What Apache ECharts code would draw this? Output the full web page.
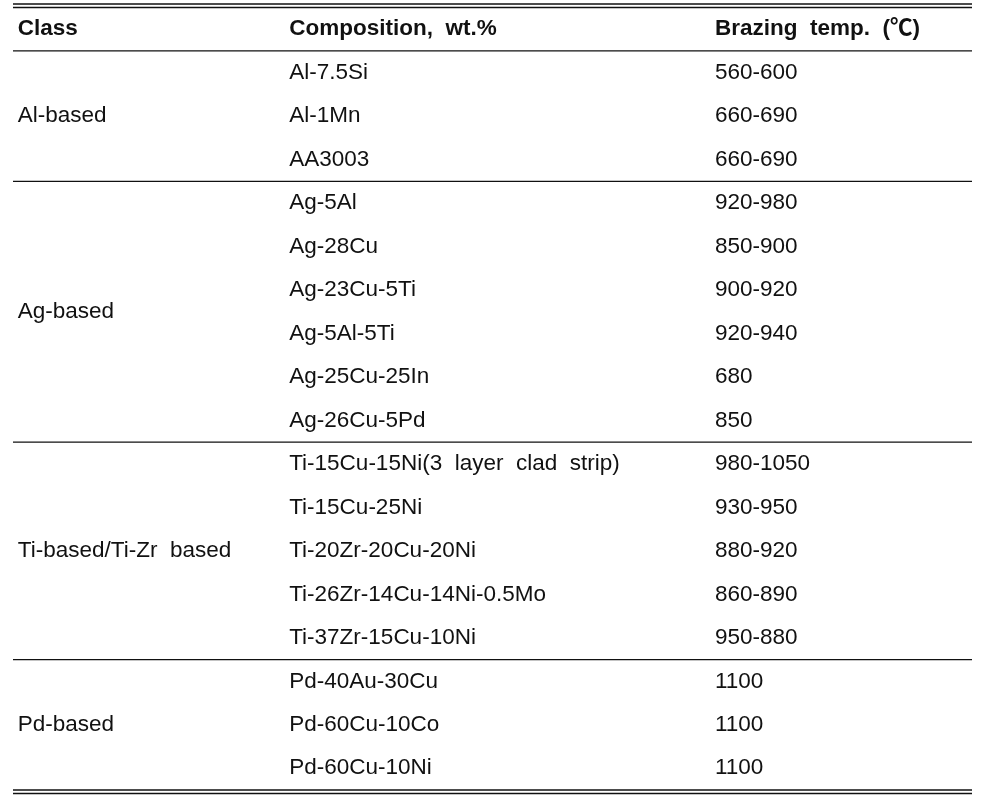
<!DOCTYPE html>
<html>
<head>
<meta charset="utf-8">
<script src="https://cdn.jsdelivr.net/npm/echarts@6/dist/echarts.min.js"></script>
<style>
  html, body { margin: 0; padding: 0; background: #fff; }
  #chart { width: 985px; height: 803px; }
</style>
</head>
<body>
<div id="chart"></div>
<script>
// table content
const headers = ["Class", "Composition,  wt.%", "Brazing  temp.  (℃)"];
const classNames = ["Al-based", "Ag-based", "Ti-based/Ti-Zr  based", "Pd-based"];
const classRowCounts = [3, 6, 5, 3];
const compositions = [
  "Al-7.5Si", "Al-1Mn", "AA3003",
  "Ag-5Al", "Ag-28Cu", "Ag-23Cu-5Ti", "Ag-5Al-5Ti", "Ag-25Cu-25In", "Ag-26Cu-5Pd",
  "Ti-15Cu-15Ni(3  layer  clad  strip)", "Ti-15Cu-25Ni", "Ti-20Zr-20Cu-20Ni",
  "Ti-26Zr-14Cu-14Ni-0.5Mo", "Ti-37Zr-15Cu-10Ni",
  "Pd-40Au-30Cu", "Pd-60Cu-10Co", "Pd-60Cu-10Ni",
];
const brazingTemps = [
  "560-600", "660-690", "660-690",
  "920-980", "850-900", "900-920", "920-940", "680", "850",
  "980-1050", "930-950", "880-920", "860-890", "950-880",
  "1100", "1100", "1100",
];

// column left edges, in percent of the table width
const colStart = [0.5, 28.8, 73.2];
const FONT = "'Liberation Sans', Arial, 'Noto Sans CJK KR', sans-serif";
const totalRows = compositions.length + 1;

const cells = [];
headers.forEach((h, c) => cells.push({ col: c, row: 0.5, text: h, bold: true }));
compositions.forEach((t, i) => cells.push({ col: 1, row: i + 1.5, text: t }));
brazingTemps.forEach((t, i) => cells.push({ col: 2, row: i + 1.5, text: t }));

const rules = [0, 1];
let start = 1;
classNames.forEach((name, g) => {
  const n = classRowCounts[g];
  cells.push({ col: 0, row: start + n / 2, text: name });
  start += n;
  rules.push(start);
});

const chart = echarts.init(document.getElementById("chart"), null, { renderer: "canvas" });

chart.setOption({
  animation: false,
  backgroundColor: "#ffffff",
  grid: { left: 13, right: 13, top: 7.5, bottom: 13 },
  xAxis: { type: "value", min: 0, max: 100, show: false },
  yAxis: { type: "value", min: 0, max: totalRows, inverse: true, show: false },
  series: [
    {
      type: "custom",
      name: "rules",
      data: rules.map((r) => [0, r]),
      renderItem: (params, api) => {
        const r = api.value(1);
        const a = api.coord([0, r]);
        const b = api.coord([100, r]);
        const style = { stroke: "#111", lineWidth: 1.3 };
        const children = [
          { type: "line", shape: { x1: a[0], y1: a[1], x2: b[0], y2: b[1] }, style },
        ];
        const last = params.dataIndex === rules.length - 1;
        if (params.dataIndex === 0 || last) {
          const dy = last ? 3.5 : -3.5;
          children.push({
            type: "line",
            shape: { x1: a[0], y1: a[1] + dy, x2: b[0], y2: b[1] + dy },
            style,
          });
        }
        return { type: "group", children };
      },
      silent: true,
    },
    {
      type: "custom",
      name: "cells",
      data: cells.map((c) => [colStart[c.col], c.row]),
      renderItem: (params, api) => {
        const cell = cells[params.dataIndex];
        const p = api.coord([api.value(0), api.value(1)]);
        return {
          type: "text",
          style: {
            x: p[0],
            y: p[1],
            text: cell.text,
            fill: "#111",
            fontSize: 22.5,
            fontWeight: cell.bold ? "bold" : "normal",
            fontFamily: FONT,
            align: "left",
            verticalAlign: "middle",
          },
        };
      },
      silent: true,
    },
  ],
});
</script>
</body>
</html>
